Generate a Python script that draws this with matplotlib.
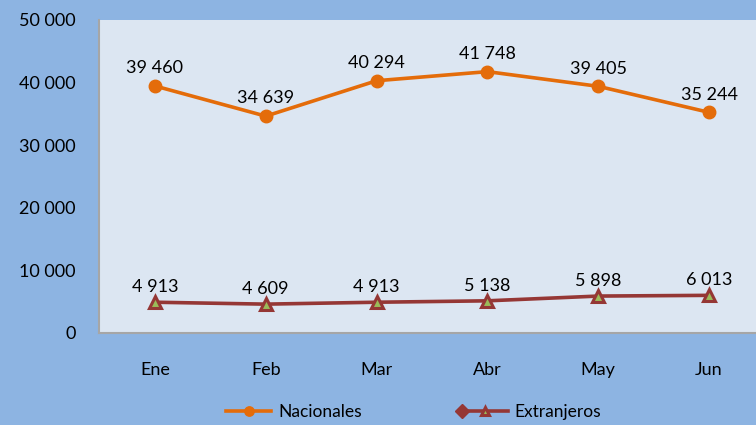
import matplotlib.pyplot as plt
from matplotlib.lines import Line2D
from matplotlib.legend_handler import HandlerLine2D

meses = ["Ene", "Feb", "Mar", "Abr", "May", "Jun"]
nacionales = [39460, 34639, 40294, 41748, 39405, 35244]
extranjeros = [4913, 4609, 4913, 5138, 5898, 6013]
yticks = [0, 10000, 20000, 30000, 40000, 50000]

FONDO = "#8db4e2"
AREA = "#dce6f2"
NARANJA = "#e46c0a"
ROJO = "#953735"
VERDE = "#9bbb59"

plt.rcParams["font.family"] = ["Lato", "DejaVu Sans"]


def fmt(v):
    return f"{v:,}".replace(",", " ")


class HandlerDiamante(HandlerLine2D):
    # rombo en el extremo izquierdo, como en la leyenda original
    def create_artists(self, legend, orig_handle, xdescent, ydescent, width, height, fontsize, trans):
        arts = super().create_artists(legend, orig_handle, xdescent, ydescent, width, height, fontsize, trans)
        d = Line2D([-xdescent], [height / 2 - ydescent], marker="D", markersize=7,
                   color=ROJO, linestyle="none")
        d.set_transform(trans)
        return list(arts) + [d]


fig = plt.figure(figsize=(7.56, 4.25), dpi=100, facecolor=FONDO)
ax = fig.add_axes([0.1316, 0.2165, 0.8796, 0.7365])
ax.set_facecolor(AREA)

x = list(range(len(meses)))
l1, = ax.plot(x, nacionales, color=NARANJA, lw=2.6, marker="o", markersize=9, label="Nacionales")
l2, = ax.plot(x, extranjeros, color=ROJO, lw=2.6, marker="^", markersize=8,
              markerfacecolor=VERDE, markeredgecolor=ROJO, markeredgewidth=2.2, label="Extranjeros")

for xi, v in zip(x, nacionales):
    ax.annotate(fmt(v), (xi, v), xytext=(0, 7), textcoords="offset points",
                ha="center", va="bottom", fontsize=13)
for xi, v in zip(x, extranjeros):
    ax.annotate(fmt(v), (xi, v), xytext=(0, 5), textcoords="offset points",
                ha="center", va="bottom", fontsize=13)

ax.set_xlim(-0.5, len(meses) - 0.5)
ax.set_ylim(0, 50000)
ax.set_yticks(yticks)
ax.set_yticklabels([fmt(t) for t in yticks], fontsize=13)
ax.set_xticks(x)
ax.set_xticklabels(meses, fontsize=13)
ax.tick_params(axis="y", length=0, pad=17)
ax.tick_params(axis="x", length=0, pad=21)

for s in ["top", "right"]:
    ax.spines[s].set_visible(False)
for s in ["left", "bottom"]:
    ax.spines[s].set_color("#a6a6a6")
    ax.spines[s].set_linewidth(1.5)

fig.legend(handles=[l1, l2], loc="center", bbox_to_anchor=(0.547, 0.03), ncol=2,
           frameon=False, fontsize=12.5, handlelength=2.6, handletextpad=0.4,
           columnspacing=5.8, markerscale=0.75, borderpad=0.1,
           handler_map={l2: HandlerDiamante()})

fig.savefig("out.png", dpi=100, facecolor=FONDO)
